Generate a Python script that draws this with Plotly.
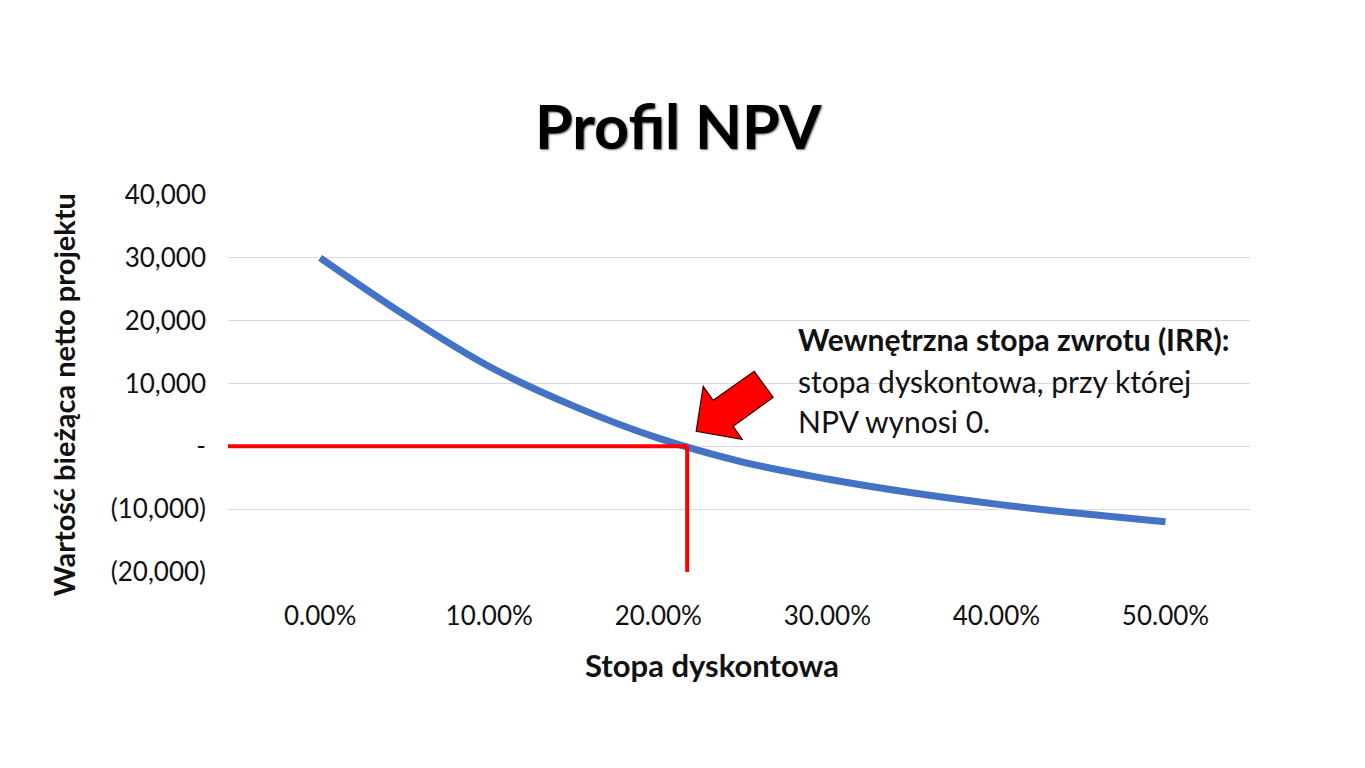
import plotly.graph_objects as go

# dane
stopy = [0, 5, 10, 15, 20, 25, 30, 35, 40, 45, 50]
npv = [30000, 20900, 12700, 6400, 1300, -2500, -5200, -7400, -9200, -10700, -12000]

y_ticks = [40000, 30000, 20000, 10000, 0, -10000, -20000]
y_labels = ["40,000", "30,000", "20,000", "10,000", "-", "(10,000)", "(20,000)"]
x_ticks = [0, 10, 20, 30, 40, 50]
x_labels = ["0.00%", "10.00%", "20.00%", "30.00%", "40.00%", "50.00%"]

X_RANGE = [-5.45, 55.0]

# IRR - miejsce zerowe (interpolacja liniowa)
irr = None
for i in range(len(npv) - 1):
    if npv[i] >= 0 > npv[i + 1]:
        irr = stopy[i] + (stopy[i + 1] - stopy[i]) * npv[i] / (npv[i] - npv[i + 1])
        break

FONT = "Lato, Calibri, sans-serif"

fig = go.Figure()
fig.add_trace(go.Scatter(
    x=stopy, y=npv, mode="lines",
    line=dict(color="#4472C4", width=7, shape="spline", smoothing=1.0),
    hoverinfo="skip", showlegend=False,
))

# czerwone linie do IRR
fig.add_shape(type="line", xref="x", yref="y", x0=X_RANGE[0], x1=irr, y0=0, y1=0,
              line=dict(color="#FF0000", width=4))
fig.add_shape(type="line", xref="x", yref="y", x0=irr, x1=irr, y0=0, y1=-20800,
              line=dict(color="#FF0000", width=4))

# strzałka (pikselowe przesunięcia względem punktu IRR)
arrow = [(0, 0), (7, 45), (17, 31), (58, 60), (77, 34), (37, 5), (46, -8)]
dx, dy = 9, 15
path = "M " + " L ".join(f"{px + dx},{py + dy}" for px, py in arrow) + " Z"
fig.add_shape(type="path", xref="x", yref="y", xsizemode="pixel", ysizemode="pixel",
              xanchor=irr, yanchor=0, path=path,
              fillcolor="#FF0000", line=dict(color="#3a0000", width=1.2))

# opis
lines = [
    ("<b>Wewnętrzna stopa zwrotu (IRR):</b>", 0.618),
    ("stopa dyskontowa, przy której", 0.507),
    ("NPV wynosi 0.", 0.401),
]
for txt, yy in lines:
    fig.add_annotation(text=txt, xref="paper", yref="paper", x=0.556, y=yy,
                       xanchor="left", yanchor="middle", showarrow=False,
                       font=dict(family=FONT, size=30, color="#111111"))

# tytuły osi jako adnotacje (dokładniejsze położenie)
fig.add_annotation(text="<b>Wartość bieżąca netto projektu</b>", xref="paper", yref="paper",
                   x=-0.1614, y=0.469, textangle=-90, showarrow=False,
                   xanchor="center", yanchor="middle",
                   font=dict(family=FONT, size=29, color="#111111"))
fig.add_annotation(text="<b>Stopa dyskontowa</b>", xref="paper", yref="paper",
                   x=0.4736, y=-0.2467, showarrow=False,
                   xanchor="center", yanchor="middle",
                   font=dict(family=FONT, size=31, color="#111111"))

fig.update_layout(
    width=1365, height=768,
    paper_bgcolor="white", plot_bgcolor="white",
    margin=dict(l=220, r=123, t=187, b=204),
    title=dict(text="<b>Profil NPV</b>", x=0.491, xanchor="center",
               y=0.844, yanchor="middle",
               font=dict(family=FONT, size=61, color="#000000",
                         shadow="1px 1px 2px #666666")),
    font=dict(family=FONT, color="#111111"),
)
fig.update_xaxes(
    range=X_RANGE, tickvals=x_ticks, ticktext=x_labels,
    showgrid=False, zeroline=False, showline=False,
    tickfont=dict(size=26), ticklabelstandoff=26,
)
fig.update_yaxes(
    range=[-20000, 40000], tickvals=y_ticks, ticktext=y_labels,
    showgrid=True, gridcolor="#D9D9D9", gridwidth=1,
    zeroline=False, showline=False,
    tickfont=dict(size=26), ticklabelstandoff=21,
)

fig.write_html("out.html")
